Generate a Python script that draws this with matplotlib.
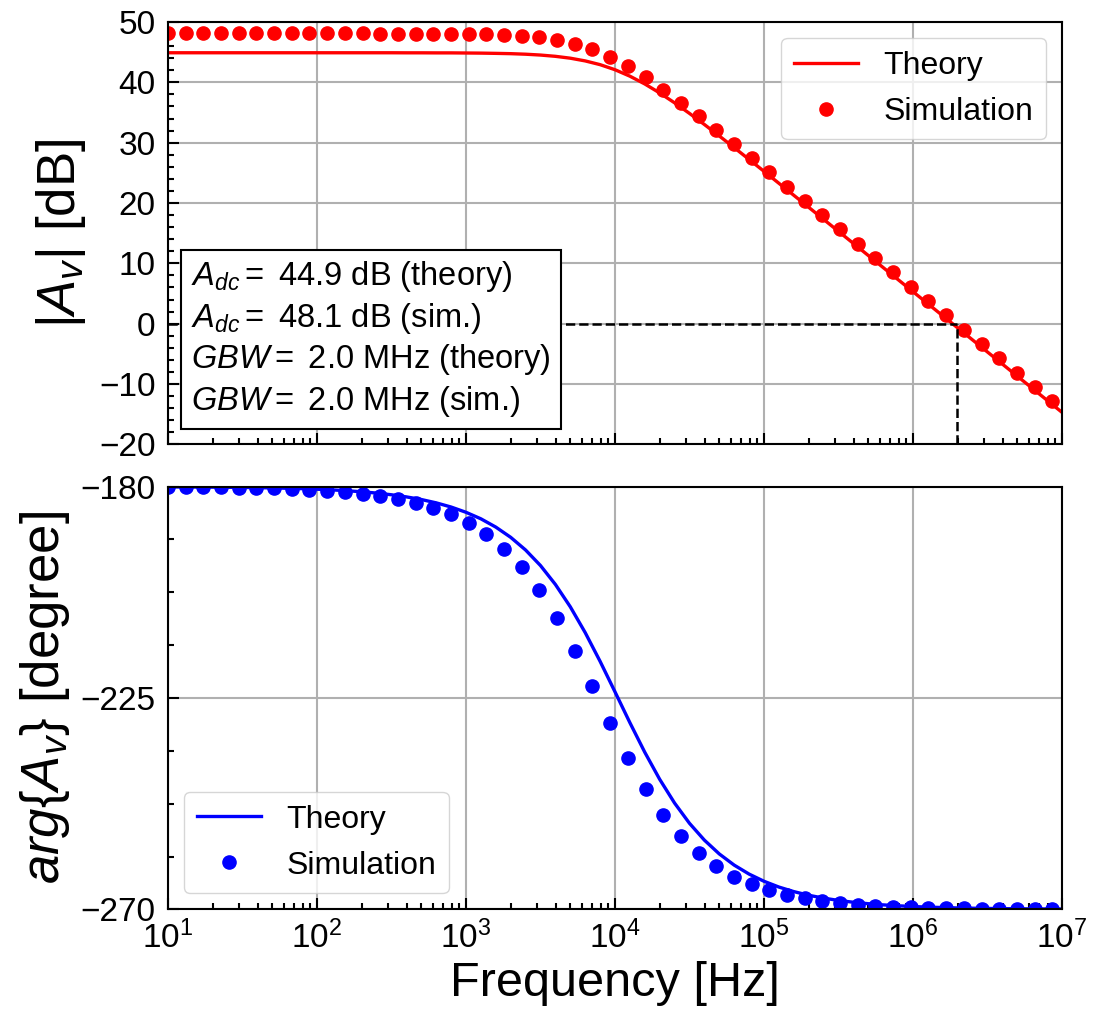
import numpy as np
import matplotlib.pyplot as plt
from matplotlib.ticker import AutoMinorLocator

plt.rcParams['font.family'] = ['Liberation Sans', 'DejaVu Sans']
plt.rcParams['mathtext.fontset'] = 'custom'
plt.rcParams['mathtext.rm'] = 'Liberation Sans'
plt.rcParams['mathtext.it'] = 'Liberation Sans:italic'
plt.rcParams['mathtext.bf'] = 'Liberation Sans:bold'

# frequency sweeps [Hz]
f_theory = np.logspace(1, 7, 61)
f_sim = np.logspace(1, 6.935, 51)

# theory curves
mag_theory = [44.90, 44.90, 44.90, 44.90, 44.90, 44.90, 44.90, 44.90,
              44.90, 44.90, 44.90, 44.90, 44.90, 44.90, 44.90, 44.90,
              44.89, 44.89, 44.88, 44.88, 44.86, 44.84, 44.80, 44.75,
              44.66, 44.52, 44.31, 44.00, 43.55, 42.93, 42.09, 41.02,
              39.73, 38.24, 36.60, 34.85, 33.01, 31.11, 29.18, 27.22,
              25.25, 23.27, 21.28, 19.29, 17.29, 15.30, 13.30, 11.30,
              9.30, 7.30, 5.30, 3.30, 1.30, -0.70, -2.70, -4.70,
              -6.70, -8.70, -10.70, -12.70, -14.70]
phase_theory = [-180.05, -180.07, -180.09, -180.11, -180.14, -180.17, -180.22, -180.27,
                -180.35, -180.43, -180.55, -180.69, -180.87, -181.09, -181.37, -181.73,
                -182.18, -182.74, -183.45, -184.34, -185.46, -186.85, -188.61, -190.79,
                -193.49, -196.80, -200.82, -205.58, -211.07, -217.19, -223.68, -230.25,
                -236.55, -242.31, -247.37, -251.68, -255.26, -258.20, -260.58, -262.49,
                -264.02, -265.25, -266.22, -267.00, -267.61, -268.10, -268.49, -268.80,
                -269.05, -269.24, -269.40, -269.52, -269.62, -269.70, -269.76, -269.81,
                -269.85, -269.88, -269.90, -269.92, -269.94]

# simulation points
mag_sim = [48.10, 48.10, 48.10, 48.10, 48.10, 48.10, 48.10, 48.10, 48.10, 48.10,
           48.10, 48.10, 48.09, 48.09, 48.08, 48.07, 48.05, 48.02, 47.96, 47.87,
           47.71, 47.44, 47.02, 46.37, 45.45, 44.20, 42.64, 40.82, 38.80, 36.65,
           34.41, 32.12, 29.79, 27.44, 25.08, 22.72, 20.35, 17.98, 15.61, 13.23,
           10.86, 8.49, 6.11, 3.74, 1.36, -1.01, -3.38, -5.76, -8.13, -10.51,
           -12.88]
phase_sim = [-180.07, -180.10, -180.13, -180.17, -180.22, -180.29, -180.38, -180.50,
             -180.66, -180.87, -181.15, -181.51, -181.98, -182.60, -183.42, -184.49,
             -185.89, -187.72, -190.10, -193.18, -197.10, -202.01, -207.99, -214.93,
             -222.55, -230.35, -237.76, -244.37, -249.94, -254.48, -258.07, -260.87,
             -263.03, -264.68, -265.95, -266.92, -267.65, -268.21, -268.64, -268.97,
             -269.21, -269.40, -269.54, -269.65, -269.74, -269.80, -269.85, -269.88,
             -269.91, -269.93, -269.95]

gbw = 1.96e6
info = ('$A_{dc}=$ 44.9 dB (theory)\n'
        '$A_{dc}=$ 48.1 dB (sim.)\n'
        '$GBW=$ 2.0 MHz (theory)\n'
        '$GBW=$ 2.0 MHz (sim.)')

fig = plt.figure(figsize=(10.93, 10.23), dpi=100)
ax1 = fig.add_axes([0.1537, 0.5657, 0.8179, 0.4128])
ax2 = fig.add_axes([0.1537, 0.1111, 0.8179, 0.4132], sharex=ax1)

ax1.plot(f_theory, mag_theory, color='red', lw=2.4, label='Theory')
ax1.plot(f_sim, mag_sim, 'o', color='red', ms=9.5, label='Simulation')
ax1.plot([10, gbw], [0, 0], 'k--', lw=1.8)
ax1.plot([gbw, gbw], [-20, 0], 'k--', lw=1.8)
ax1.set_xscale('log')
ax1.set_xlim(10, 1e7)
ax1.set_ylim(-20, 50)
ax1.set_yticks(np.arange(-20, 51, 10))
ax1.yaxis.set_minor_locator(AutoMinorLocator(5))
ax1.set_ylabel('$|A_v|$ [dB]', fontsize=38, labelpad=8)
ax1.legend(loc='upper right', fontsize=23)
ax1.text(0.026, 0.06, info, transform=ax1.transAxes, fontsize=23.5,
         va='bottom', ha='left', linespacing=1.25, zorder=5,
         bbox=dict(boxstyle='square,pad=0.3', fc='white', ec='black', lw=1.5))
ax1.tick_params(labelbottom=False)

ax2.plot(f_theory, phase_theory, color='blue', lw=2.4, label='Theory')
ax2.plot(f_sim, phase_sim, 'o', color='blue', ms=9.5, label='Simulation')
ax2.set_ylim(-270, -180)
ax2.set_yticks([-270, -225, -180])
ax2.yaxis.set_minor_locator(AutoMinorLocator(4))
ax2.set_ylabel(r'$arg\{A_v\}$ [degree]', fontsize=38, labelpad=6)
ax2.set_xlabel('Frequency [Hz]', fontsize=35)
ax2.legend(loc='lower left', fontsize=23)

for ax in (ax1, ax2):
    ax.grid(True, which='major', color='#b0b0b0', lw=1.5)
    ax.set_axisbelow(True)
    ax.tick_params(which='both', direction='in', labelsize=24, width=1.5)
    ax.tick_params(which='major', length=8)
    ax.tick_params(which='minor', length=4)
    ax.tick_params(axis='y', pad=9)
    ax.tick_params(axis='x', pad=8)
    for s in ax.spines.values():
        s.set_linewidth(1.5)

fig.savefig('out.png', dpi=100)
